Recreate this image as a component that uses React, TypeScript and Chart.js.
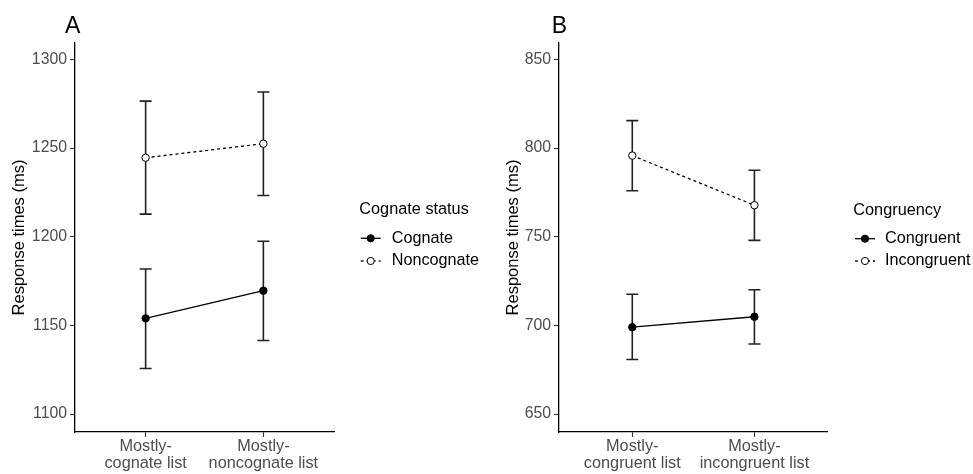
import React, { useEffect, useRef } from 'react';
import { Chart, registerables } from 'chart.js';
Chart.register(...registerables);

// ---------- Data ----------
const categoriesA = [['Mostly-', 'cognate list'], ['Mostly-', 'noncognate list']];
const cognateMean = [1154, 1169.6];
const cognateLow = [1125.7, 1141.5];
const cognateHigh = [1181.8, 1197.5];
const noncognateMean = [1244.6, 1252.5];
const noncognateLow = [1212.8, 1223.3];
const noncognateHigh = [1276.5, 1281.7];
const ticksA = [1100, 1150, 1200, 1250, 1300];

const categoriesB = [['Mostly-', 'congruent list'], ['Mostly-', 'incongruent list']];
const congruentMean = [699, 704.9];
const congruentLow = [680.8, 689.5];
const congruentHigh = [717.6, 720.1];
const incongruentMean = [795.8, 767.8];
const incongruentLow = [776, 748];
const incongruentHigh = [815.5, 787.5];
const ticksB = [650, 700, 750, 800, 850];

const FONT = "'Liberation Sans', Arial, sans-serif";

const errorBarPlugin = {
  id: 'errorBars',
  beforeDatasetsDraw(chart: any) {
    const ctx = chart.ctx;
    const xs = chart.scales.x;
    const ys = chart.scales.y;
    ctx.save();
    ctx.strokeStyle = '#222';
    ctx.lineWidth = 1.6;
    chart.data.datasets.forEach((ds: any) => {
      ds.data.forEach((pt: any, i: number) => {
        const x = xs.getPixelForValue(pt.x);
        const yl = ys.getPixelForValue(ds.errLow[i]);
        const yh = ys.getPixelForValue(ds.errHigh[i]);
        ctx.beginPath();
        ctx.moveTo(x, yl);
        ctx.lineTo(x, yh);
        ctx.moveTo(x - 6, yl);
        ctx.lineTo(x + 6, yl);
        ctx.moveTo(x - 6, yh);
        ctx.lineTo(x + 6, yh);
        ctx.stroke();
      });
    });
    ctx.restore();
  },
};

const annotPlugin = {
  id: 'annot',
  afterDraw(chart: any) {
    const o = chart.options.plugins.annot;
    const ctx = chart.ctx;
    ctx.save();
    // panel letter
    ctx.fillStyle = '#000';
    ctx.font = `23px ${FONT}`;
    ctx.textAlign = 'left';
    ctx.textBaseline = 'alphabetic';
    ctx.fillText(o.letter, o.letterX, o.letterY);
    // legend title
    ctx.font = `16.3px ${FONT}`;
    ctx.textBaseline = 'middle';
    ctx.fillText(o.title, o.titleX, o.titleY);
    // legend items
    chart.data.datasets.forEach((ds: any, i: number) => {
      const y = o.rowY[i];
      ctx.strokeStyle = '#000';
      ctx.lineWidth = 1.3;
      ctx.setLineDash(ds.borderDash || []);
      ctx.beginPath();
      ctx.moveTo(o.symX, y);
      ctx.lineTo(o.symX + 20, y);
      ctx.stroke();
      ctx.setLineDash([]);
      ctx.beginPath();
      ctx.arc(o.symX + 10, y, 3.6, 0, Math.PI * 2);
      ctx.fillStyle = ds.pointBackgroundColor;
      ctx.fill();
      ctx.lineWidth = 1;
      ctx.stroke();
      ctx.fillStyle = '#000';
      ctx.font = `16.2px ${FONT}`;
      ctx.fillText(ds.label, o.textX, y);
    });
    ctx.restore();
  },
};

function makeDataset(label: string, mean: number[], low: number[], high: number[], dashed: boolean) {
  return {
    label,
    data: mean.map((y, i) => ({ x: i, y })),
    errLow: low,
    errHigh: high,
    borderColor: '#000',
    borderWidth: 1.3,
    borderDash: dashed ? [3, 3] : [],
    pointRadius: 3.7,
    pointHoverRadius: 3.7,
    pointBackgroundColor: dashed ? '#fff' : '#000',
    pointBorderColor: '#000',
    pointBorderWidth: 1,
    fill: false,
    tension: 0,
  };
}

function makeConfig(p: any): any {
  return {
    type: 'line',
    data: { datasets: p.datasets },
    plugins: [errorBarPlugin, annotPlugin],
    options: {
      responsive: false,
      animation: false,
      events: [],
      layout: { padding: { top: 43, right: p.padRight, bottom: 0, left: 0 } },
      plugins: {
        legend: { display: false },
        tooltip: { enabled: false },
        annot: p.annot,
      },
      scales: {
        x: {
          type: 'linear',
          min: -0.6,
          max: 1.6,
          afterBuildTicks: (s: any) => {
            s.ticks = p.categories.map((_: any, i: number) => ({ value: i }));
          },
          afterFit: (s: any) => {
            s.height = 42;
          },
          ticks: {
            color: '#4d4d4d',
            font: { family: FONT, size: 16.3, lineHeight: 1.06 },
            padding: 1,
            maxRotation: 0,
            autoSkip: false,
            callback: (v: any) => p.categories[v],
          },
          grid: { drawOnChartArea: false, tickLength: 5, tickColor: '#333', tickWidth: 1.1 },
          border: { color: '#000', width: 1.3 },
        },
        y: {
          type: 'linear',
          min: p.yMin,
          max: p.yMax,
          afterBuildTicks: (s: any) => {
            s.ticks = p.ticks.map((v: number) => ({ value: v }));
          },
          afterFit: (s: any) => {
            s.width = p.yWidth;
          },
          ticks: {
            color: '#4d4d4d',
            font: { family: FONT, size: 15.8 },
            padding: 3,
            callback: (v: any) => String(v),
          },
          grid: { drawOnChartArea: false, tickLength: 5, tickColor: '#333', tickWidth: 1.1 },
          border: { color: '#000', width: 1.3 },
          title: {
            display: true,
            text: 'Response times (ms)',
            color: '#000',
            font: { family: FONT, size: 16.5 },
            padding: { top: p.titlePad, bottom: 0 },
          },
        },
      },
    },
  };
}

function Panel(props: { cfg: any; left: number; width: number }) {
  const ref = useRef<HTMLCanvasElement>(null);
  useEffect(() => {
    if (!ref.current) return;
    const chart = new Chart(ref.current, props.cfg);
    return () => chart.destroy();
  }, []);
  return (
    <canvas
      ref={ref}
      width={props.width}
      height={474}
      style={{ position: 'absolute', left: props.left, top: 0, width: props.width, height: 474, display: 'block' }}
    />
  );
}

export default function App() {
  const cfgA = makeConfig({
    datasets: [
      makeDataset('Cognate', cognateMean, cognateLow, cognateHigh, false),
      makeDataset('Noncognate', noncognateMean, noncognateLow, noncognateHigh, true),
    ],
    categories: categoriesA,
    ticks: ticksA,
    yMin: 1089.9,
    yMax: 1309.3,
    yWidth: 75,
    titlePad: 9.6,
    padRight: 152,
    annot: {
      letter: 'A', letterX: 65, letterY: 32.7,
      title: 'Cognate status', titleX: 359.3, titleY: 210,
      symX: 360.7, textX: 391.7, rowY: [238.3, 261],
    },
  });
  const cfgB = makeConfig({
    datasets: [
      makeDataset('Congruent', congruentMean, congruentLow, congruentHigh, false),
      makeDataset('Incongruent', incongruentMean, incongruentLow, incongruentHigh, true),
    ],
    categories: categoriesB,
    ticks: ticksB,
    yMin: 639.9,
    yMax: 859.3,
    yWidth: 73,
    titlePad: 17.2,
    padRight: 145.3,
    annot: {
      letter: 'B', letterX: 65.7, letterY: 32.5,
      title: 'Congruency', titleX: 367.3, titleY: 210.7,
      symX: 369, textX: 399, rowY: [238.7, 261],
    },
  });
  return (
    <div style={{ position: 'absolute', left: 0, top: 0, width: 973, height: 474, background: '#fff' }}>
      <Panel cfg={cfgA} left={0} width={486} />
      <Panel cfg={cfgB} left={486} width={487} />
    </div>
  );
}
